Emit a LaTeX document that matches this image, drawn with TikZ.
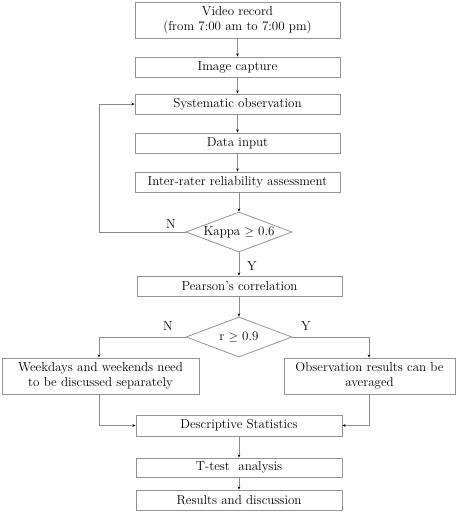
\documentclass[tikz,border=0pt]{standalone}
\usetikzlibrary{shapes.geometric,arrows.meta}
\begin{document}
\begin{tikzpicture}[x=1pt,y=-1pt,
  box/.style={draw=gray!85,line width=0.8pt,rectangle,inner sep=0pt,align=center,font=\fontsize{13}{15}\selectfont,text=black},
  dec/.style={draw=gray!85,line width=0.8pt,diamond,inner sep=0pt,shape aspect=2.65,minimum width=106pt,minimum height=40pt,font=\fontsize{13}{15}\selectfont},
  conn/.style={draw=gray!90,line width=0.8pt,-{Stealth[length=3.2pt,width=2.6pt,black]}},
  lbl/.style={font=\fontsize{13}{15}\selectfont}]
\useasboundingbox (0,0) rectangle (457,512);
\node[box,minimum width=205pt,minimum height=36pt] (video) at (237.5,20) {Video record\\(from 7:00 am to 7:00 pm)};
\node[box,minimum width=205pt,minimum height=20pt] (cap) at (237.5,67) {Image capture};
\node[box,minimum width=205pt,minimum height=20pt] (sys) at (237.5,104) {Systematic observation};
\node[box,minimum width=205pt,minimum height=20pt] (data) at (237.5,143) {Data input};
\node[box,minimum width=205pt,minimum height=20pt] (irr) at (237.5,182) {Inter-rater reliability assessment};
\node[dec] (kappa) at (239,232) {Kappa $\geq$ 0.6};
\node[box,minimum width=205pt,minimum height=20pt] (pear) at (239.5,286) {Pearson's correlation};
\node[dec] (r) at (239,337) {r $\geq$ 0.9};
\node[box,minimum width=197pt,minimum height=36pt] (left) at (100.5,376) {Weekdays and weekends need\\to be discussed separately};
\node[box,minimum width=171pt,minimum height=36pt] (right) at (369.5,376) {Observation results can be\\averaged};
\node[box,minimum width=206pt,minimum height=21pt] (desc) at (239,425.5) {Descriptive Statistics};
\node[box,minimum width=206pt,minimum height=19pt] (ttest) at (239,467.5) {T-test\ \ analysis};
\node[box,minimum width=206pt,minimum height=20pt] (res) at (239,500) {Results and discussion};
\draw[conn] (video) -- (cap);
\draw[conn] (cap) -- (sys);
\draw[conn] (sys) -- (data);
\draw[conn] (data) -- (irr);
\draw[conn] (irr.south -| kappa.north) -- (kappa.north);
\draw[conn] (kappa.west) -- (99,232) |- (sys.west);
\draw[conn] (kappa.south) -- (pear.north -| kappa.south);
\draw[conn] (pear.south -| r.north) -- (r.north);
\draw[conn] (r.west) -| (left.north -| 99,0);
\draw[conn] (r.east) -| (right.north -| 369,0);
\draw[conn] (left.south -| 99,0) |- (desc.west);
\draw[conn] (right.south -| 369,0) |- (desc.east);
\draw[conn] (desc) -- (ttest);
\draw[conn] (ttest) -- (res);
\node[lbl] (n1) at (171,224) {N};
\node[lbl] (y1) at (252,266) {Y};
\node[lbl] (n2) at (168,326) {N};
\node[lbl] (y2) at (306,326) {Y};
\end{tikzpicture}
\end{document}
